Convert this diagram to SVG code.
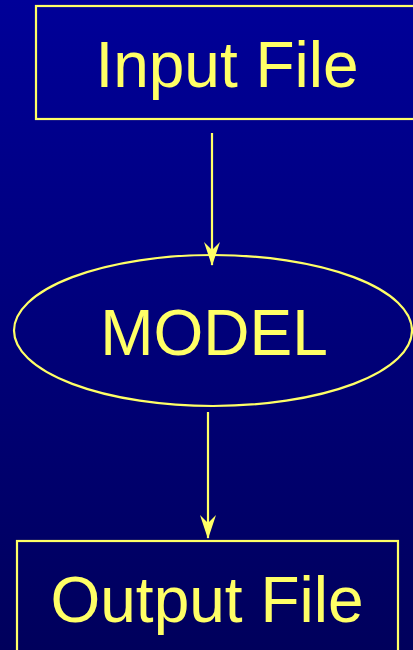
<svg xmlns="http://www.w3.org/2000/svg" width="413" height="650" viewBox="0 0 413 650">
<defs>
<linearGradient id="bg" x1="0" y1="0" x2="0" y2="1">
<stop offset="0" stop-color="#000098"/>
<stop offset="1" stop-color="#00005c"/>
</linearGradient>
<marker id="arr" markerWidth="24" markerHeight="16" refX="23" refY="8" orient="auto" markerUnits="userSpaceOnUse" viewBox="0 0 24 16">
<path d="M0,0 L8,8 L0,16 L24,8 Z" fill="#ffff66"/>
</marker>
<style>
.shape{fill:none;stroke:#ffff66;stroke-width:2.2}
.lbl{font-family:"Liberation Sans",Arial,sans-serif;font-size:64px;fill:#ffff66;text-anchor:middle}
.conn{stroke:#ffff66;stroke-width:2.2;fill:none}
</style>
</defs>
<rect x="0" y="0" width="413" height="650" fill="url(#bg)"/>
<g id="input">
<rect class="shape" x="36" y="6" width="400" height="113"/>
<text class="lbl" x="227" y="87">Input File</text>
</g>
<g id="model">
<ellipse class="shape" cx="213" cy="330.5" rx="199" ry="75.5"/>
<text class="lbl" x="214" y="355">MODEL</text>
</g>
<g id="output">
<rect class="shape" x="17" y="541" width="381" height="130"/>
<text class="lbl" x="207" y="622">Output File</text>
</g>
<g id="connectors">
<line class="conn" x1="212" y1="133" x2="212" y2="265" marker-end="url(#arr)"/>
<line class="conn" x1="208" y1="412" x2="208" y2="538" marker-end="url(#arr)"/>
</g>
</svg>
